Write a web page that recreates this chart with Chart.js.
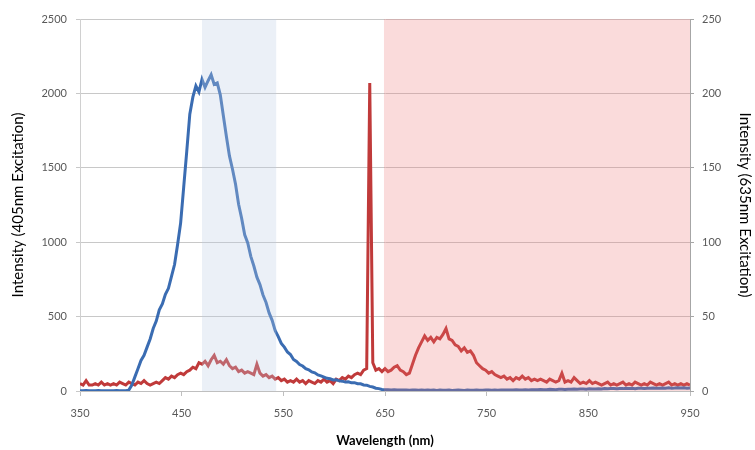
<!DOCTYPE html>
<html>
<head>
<meta charset="utf-8">
<script src="https://cdn.jsdelivr.net/npm/chart.js@4/dist/chart.umd.min.js"></script>
<style>
  html, body { margin: 0; padding: 0; background: #fff; }
  #wrap { width: 755px; height: 450px; }
</style>
</head>
<body>
<div id="wrap"><canvas id="spectrum"></canvas></div>
<script>
// wavelength grid (nm)
const wavelengths = [
  350,353,356,359,362,365,368,371,374,377,
  380,383,386,389,392,395,398,401,404,407,
  410,413,416,419,422,425,428,431,434,437,
  440,443,446,449,452,455,458,461,464,467,
  470,473,476,479,482,485,488,491,494,497,
  500,503,506,509,512,515,518,521,524,527,
  530,533,536,539,542,545,548,551,554,557,
  560,563,566,569,572,575,578,581,584,587,
  590,593,596,599,602,605,608,611,614,617,
  620,623,626,629,632,635,638,641,644,647,
  650,653,656,659,662,665,668,671,674,677,
  680,683,686,689,692,695,698,701,704,707,
  710,713,716,719,722,725,728,731,734,737,
  740,743,746,749,752,755,758,761,764,767,
  770,773,776,779,782,785,788,791,794,797,
  800,803,806,809,812,815,818,821,824,827,
  830,833,836,839,842,845,848,851,854,857,
  860,863,866,869,872,875,878,881,884,887,
  890,893,896,899,902,905,908,911,914,917,
  920,923,926,929,932,935,938,941,944,947,
  950
];

// 405nm excitation (left axis)
const exc405 = [
  2,1,3,2,1,2,3,1,2,2,
  1,2,3,1,2,2,6,40,95,150,
  205,240,295,350,420,470,545,585,650,690,
  770,850,985,1130,1370,1610,1860,1975,2050,2010,
  2095,2040,2085,2125,2060,2070,1990,1850,1710,1580,
  1490,1390,1255,1160,1050,995,905,840,765,715,
  645,595,525,475,405,365,320,295,262,245,
  212,198,178,168,150,143,128,122,108,102,
  94,85,82,74,76,68,66,60,62,55,
  56,49,48,41,39,31,27,19,16,10,
  9,8,7,8,6,7,6,7,5,6,
  6,5,7,5,6,5,6,4,6,5,
  5,6,4,5,6,5,4,6,5,5,
  6,5,5,7,6,5,6,5,7,6,
  6,7,6,8,7,6,8,7,8,9,
  8,10,9,8,11,10,9,12,11,10,
  12,11,13,12,14,13,12,15,14,13,
  15,14,16,15,17,16,15,17,16,18,
  17,18,16,19,18,17,19,18,20,19,
  18,20,19,21,19,20,22,20,21,19,
  20
];

// 635nm excitation (right axis)
const exc635 = [
  5,4,7,4,4,5,4,6,4,5,
  4,5,4,6,5,4,6,5,4,6,
  5,7,5,4,5,6,5,7,9,8,
  10,9,11,12,11,13,14,16,15,19,
  18,20,17,21,24,19,20,18,21,17,
  15,16,13,14,12,13,12,11,18,12,
  10,11,9,10,8,9,7,8,6,7,
  6,8,6,7,5,7,6,5,7,6,
  8,6,7,5,8,7,9,8,10,9,
  11,12,11,14,15,207,19,14,15,13,
  15,13,14,16,17,14,13,11,12,18,
  24,29,33,37,34,36,33,36,35,38,
  42,35,34,31,30,27,29,26,27,24,
  19,17,15,14,12,13,11,10,9,10,
  8,9,7,9,8,10,8,9,7,8,
  7,8,7,6,8,7,6,7,12,6,
  7,6,9,7,5,6,5,7,5,6,
  5,4,5,6,4,5,4,5,6,4,
  5,4,6,5,4,5,4,6,5,4,
  5,4,5,6,4,5,4,5,4,5,
  4
];

// x tick labels
const xTicks = [350, 450, 550, 650, 750, 850, 950];

// shaded filter bands (nm)
const bandStart = [470, 649];
const bandEnd = [543, 950];
const bandColor = ['rgba(190,206,228,0.3)', 'rgba(235,110,110,0.25)'];

const FONT = "Lato, 'Open Sans', sans-serif";

/* ---- полупрозрачные полосы поверх линий ---- */
const bandsPlugin = {
    id: 'bands',
    afterDatasetsDraw(chart) {
        const { ctx, chartArea, scales: { x } } = chart;
        ctx.save();
        bandStart.forEach((s, i) => {
            const x0 = x.getPixelForValue(s);
            const x1 = x.getPixelForValue(bandEnd[i]);
            ctx.fillStyle = bandColor[i];
            ctx.fillRect(x0, chartArea.top, x1 - x0, chartArea.bottom - chartArea.top);
        });
        ctx.restore();
    }
};

const pts = arr => wavelengths.map((w, i) => ({ x: w, y: arr[i] }));
const plain = v => String(v);   // без разделителя тысяч

new Chart(document.getElementById('spectrum'), {
    type: 'line',
    data: {
        datasets: [
            { label: '405nm', data: pts(exc405), yAxisID: 'y',
              borderColor: 'rgb(58,108,178)', borderWidth: 3 },
            { label: '635nm', data: pts(exc635), yAxisID: 'y1',
              borderColor: 'rgb(192,58,58)', borderWidth: 3 }
        ]
    },
    options: {
        responsive: true,
        maintainAspectRatio: false,
        animation: false,
        layout: { padding: { top: 19, left: 0, right: 0, bottom: 0 } },
        elements: { point: { radius: 0 }, line: { tension: 0 } },
        plugins: { legend: { display: false }, tooltip: { enabled: false } },
        scales: {
            x: {
                type: 'linear',
                min: 350, max: 950,
                afterBuildTicks: s => { s.ticks = xTicks.map(v => ({ value: v })); },
                afterFit: s => { s.height = 59; },
                grid: { drawOnChartArea: false, tickLength: 5, color: '#bfbfbf' },
                border: { color: '#bfbfbf' },
                ticks: { padding: 11, color: '#595959', callback: plain,
                         font: { family: FONT, size: 11 } },
                title: { display: true, text: 'Wavelength (nm)', color: '#000',
                         padding: { top: 0, bottom: 1 },
                         font: { family: FONT, size: 13, weight: 'bold' } }
            },
            y: {
                position: 'left',
                min: 0, max: 2500,
                afterFit: s => { s.width = 80; },
                grid: { color: '#c8c8c8', tickLength: 4 },
                border: { color: '#d0d0d0' },
                ticks: { stepSize: 500, padding: 9, color: '#595959', callback: plain,
                         font: { family: FONT, size: 11 } },
                title: { display: true, text: 'Intensity (405nm Excitation)', color: '#000',
                         padding: { top: 9, bottom: 0 },
                         font: { family: FONT, size: 15 } }
            },
            y1: {
                position: 'right',
                min: 0, max: 250,
                afterFit: s => { s.width = 65; },
                grid: { drawOnChartArea: false, tickLength: 4, color: '#a6a6a6' },
                border: { color: '#a6a6a6' },
                ticks: { stepSize: 50, padding: 8, color: '#595959', callback: plain,
                         font: { family: FONT, size: 11 } },
                title: { display: true, text: 'Intensity (635nm Excitation)', color: '#000',
                         padding: { top: 1, bottom: 0 },
                         font: { family: FONT, size: 15 } }
            }
        }
    },
    plugins: [bandsPlugin]
});
</script>
</body>
</html>
